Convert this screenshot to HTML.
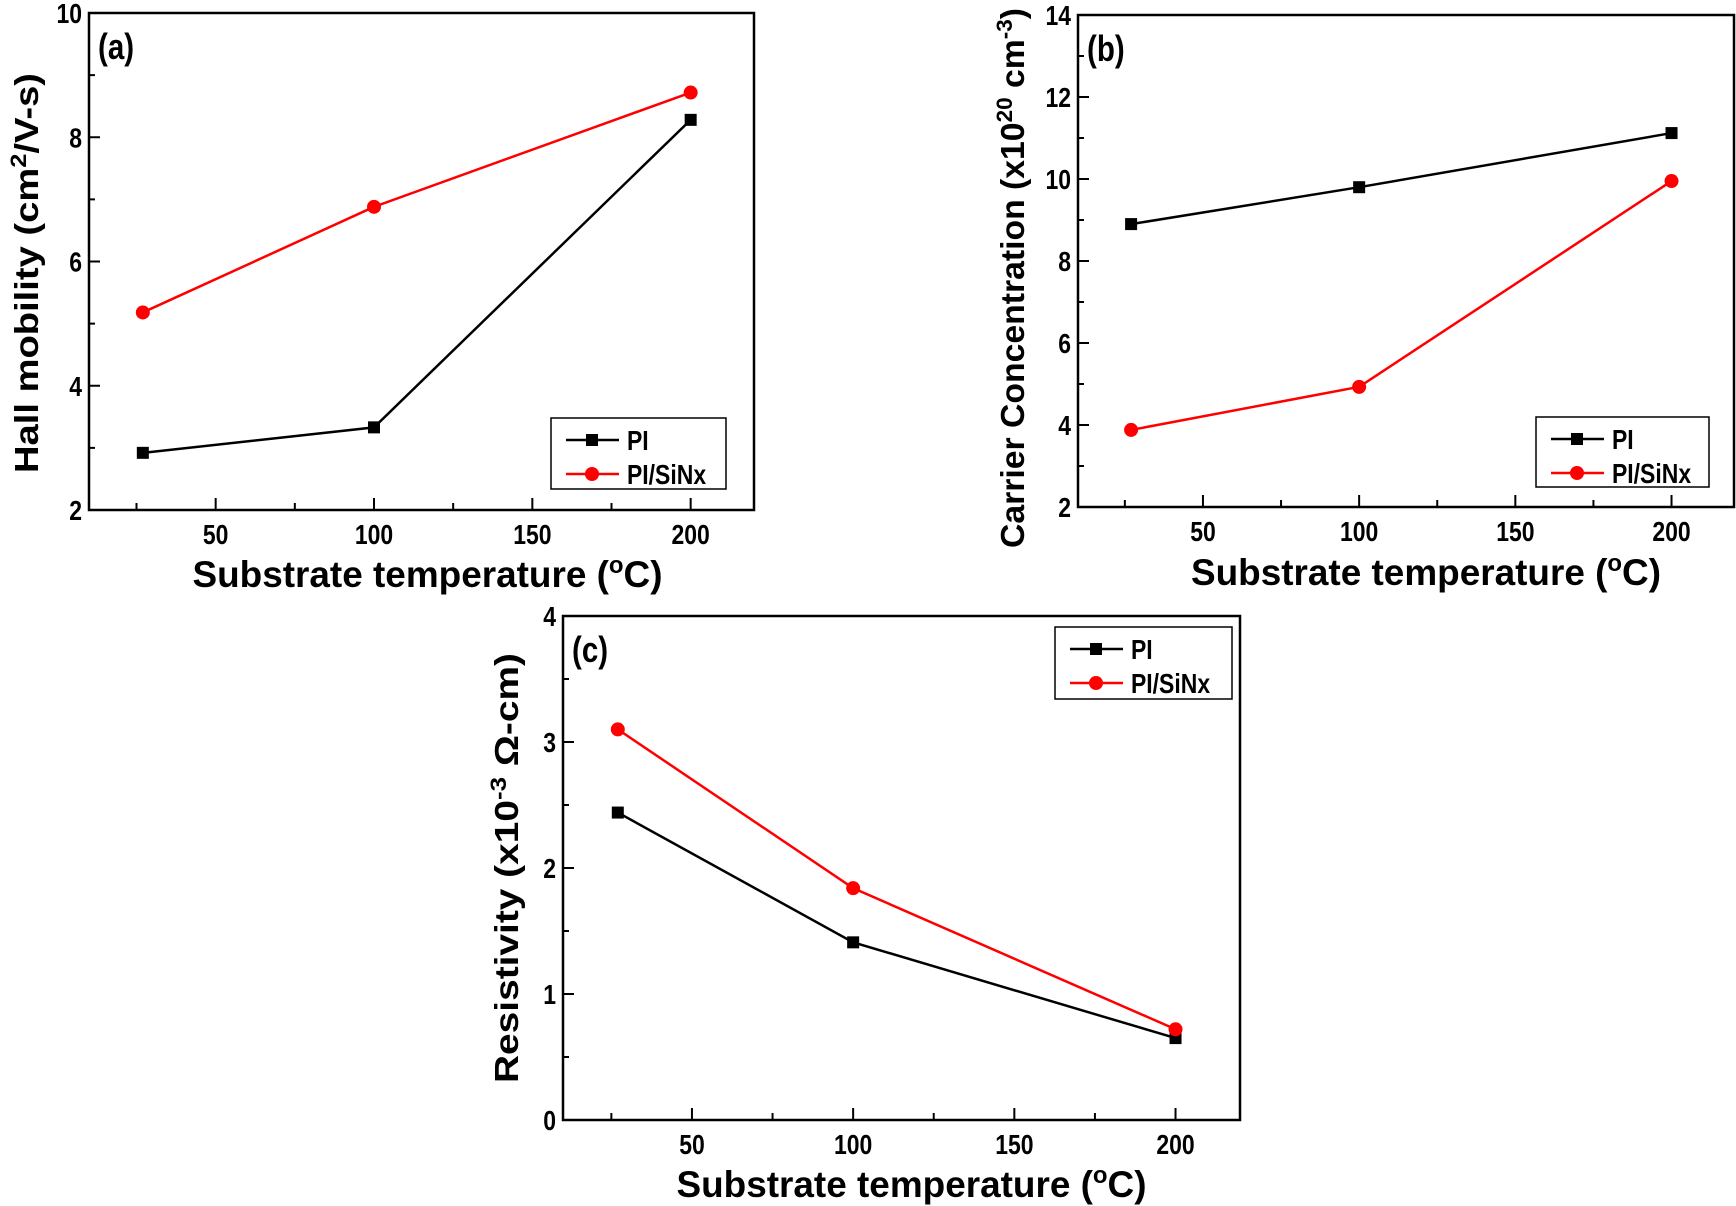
<!DOCTYPE html>
<html><head><meta charset="utf-8">
<style>
html,body{margin:0;padding:0;background:#fff;}
svg{display:block;font-family:"Liberation Sans",Arial,sans-serif;font-weight:bold;}
</style></head>
<body>
<svg id="fig" width="1736" height="1206" viewBox="0 0 1736 1206" xmlns="http://www.w3.org/2000/svg"></svg>
<script>
// ---- data ----
const temps = [27, 100, 200];
const xTicks = [50, 100, 150, 200];
const xMinorTicks = [25, 75, 125, 175];
const mobilityPI = [2.92, 3.33, 8.28];
const mobilitySiNx = [5.18, 6.88, 8.72];
const mobilityTicks = [2, 4, 6, 8, 10];
const carrierPI = [8.9, 9.8, 11.12];
const carrierSiNx = [3.88, 4.93, 9.95];
const carrierTicks = [2, 4, 6, 8, 10, 12, 14];
const resistPI = [2.44, 1.41, 0.65];
const resistSiNx = [3.1, 1.84, 0.72];
const resistTicks = [0, 1, 2, 3, 4];
const seriesNames = ["PI", "PI/SiNx"];

const NS = "http://www.w3.org/2000/svg";
const svg = document.getElementById('fig');
function mk(tag, attrs, parent, text) {
  const e = document.createElementNS(NS, tag);
  for (const k in attrs) e.setAttribute(k, attrs[k]);
  if (text !== undefined) e.textContent = text;
  (parent || svg).appendChild(e);
  return e;
}
function ntext(x, y, size, anchor, parent, txt) {
  return mk('text', {transform: `translate(${x},${y}) scale(0.82,1)`, 'text-anchor': anchor, 'font-size': size}, parent, txt);
}

function panel(cfg) {
  const g = mk('g', {});
  
  
  const {L, R, T, B, ymin, ymax} = cfg;
  const xs = v => L + (v - 10) / 210 * (R - L);
  const ys = v => B - (v - ymin) / (ymax - ymin) * (B - T);
  const frame = mk('rect', {x: L, y: T, width: R - L, height: B - T, fill: 'none', stroke: '#000', 'stroke-width': 2.5}, g);
  
  
  xTicks.forEach(t => {
    const x = xs(t);
    mk('line', {x1: x, x2: x, y1: B, y2: B - 12, stroke: '#000', 'stroke-width': 2}, g);
    const lb = ntext(x, B + 34, 28, 'middle', g, t);
    
    
  });
  xMinorTicks.forEach(t => {
    const x = xs(t);
    mk('line', {x1: x, x2: x, y1: B, y2: B - 7, stroke: '#000', 'stroke-width': 2}, g);
  });
  const ticks = cfg.yTicks;
  ticks.forEach((t, i) => {
    const y = ys(t);
    mk('line', {x1: L, x2: L + 11, y1: y, y2: y, stroke: '#000', 'stroke-width': 2}, g);
    const lb = ntext(L - 7, y + 10, 28, 'end', g, t);
    
    
    if (i < ticks.length - 1) {
      const ym = ys((t + ticks[i + 1]) / 2);
      mk('line', {x1: L, x2: L + 6, y1: ym, y2: ym, stroke: '#000', 'stroke-width': 2}, g);
    }
  });
  const xt = mk('text', {x: (L + R) / 2 + cfg.xtOff, y: cfg.xtY, 'text-anchor': 'middle', 'font-size': 37, textLength: 470, lengthAdjust: 'spacingAndGlyphs'}, g);
  
  
  mk('tspan', {}, xt, 'Substrate temperature (');
  mk('tspan', {dy: -14, 'font-size': 24}, xt, 'o');
  mk('tspan', {dy: 14}, xt, 'C)');
  const yt = mk('text', {transform: `translate(${cfg.ytX},${cfg.ytY}) rotate(-90)`, 'text-anchor': 'middle', 'font-size': 33, textLength: cfg.ytLen, lengthAdjust: 'spacingAndGlyphs'}, g);
  
  
  cfg.ytParts.forEach(p => mk('tspan', p[1], yt, p[0]));
  const pl = ntext(L + 9, T + 46, 36, 'start', g, cfg.label);
  
  
  const series = [[cfg.s1, '#000', 'square'], [cfg.s2, '#f00', 'circle']];
  series.forEach(([vals, col, shape], si) => {
    const pts = temps.map((t, i) => xs(t) + ',' + ys(vals[i])).join(' ');
    const line = mk('polyline', {points: pts, fill: 'none', stroke: col, 'stroke-width': 2.5}, g);
    
    
    temps.forEach((t, i) => {
      let m;
      if (shape === 'square') m = mk('rect', {x: xs(t) - 6, y: ys(vals[i]) - 6, width: 12, height: 12, fill: col}, g);
      else m = mk('circle', {cx: xs(t), cy: ys(vals[i]), r: 7, fill: col}, g);
      
      
    });
  });
  const lg = mk('g', {}, g);
  
  
  const [lx, ly, lw, lh] = cfg.legend;
  mk('rect', {x: lx, y: ly, width: lw, height: lh, fill: '#fff', stroke: '#000', 'stroke-width': 1.5}, lg);
  series.forEach(([vals, col, shape], si) => {
    const ey = ly + 22 + si * 34;
    const ent = mk('g', {}, lg);
    
    
    mk('line', {x1: lx + 15, x2: lx + 68, y1: ey, y2: ey, stroke: col, 'stroke-width': 2.5}, ent);
    if (shape === 'square') mk('rect', {x: lx + 35, y: ey - 6, width: 12, height: 12, fill: col}, ent);
    else mk('circle', {cx: lx + 41, cy: ey, r: 7, fill: col}, ent);
    ntext(lx + 76, ey + 10, 28, 'start', ent, seriesNames[si]);
  });
}

panel({name: 'panel-a-hall-mobility', L: 89, R: 754, T: 13, B: 510, ymin: 2, ymax: 10, yTicks: mobilityTicks,
  s1: mobilityPI, s2: mobilitySiNx, label: '(a)', xtY: 587, xtOff: 6, ytX: 38, ytY: 273, ytLen: 400,
  ytParts: [['Hall mobility (cm', {}], ['2', {dy: -12, 'font-size': 22}], ['/V-s)', {dy: 12}]],
  legend: [551, 418, 175, 71]});
panel({name: 'panel-b-carrier-concentration', L: 1078, R: 1734, T: 15, B: 507, ymin: 2, ymax: 14, yTicks: carrierTicks,
  s1: carrierPI, s2: carrierSiNx, label: '(b)', xtY: 585, xtOff: 20, ytX: 1024, ytY: 278, ytLen: 540,
  ytParts: [['Carrier Concentration (x10', {}], ['20', {dy: -12, 'font-size': 22}], [' cm', {dy: 12}], ['-3', {dy: -12, 'font-size': 22}], [')', {dy: 12}]],
  legend: [1536, 417, 173, 70]});
panel({name: 'panel-c-resistivity', L: 563, R: 1240, T: 616, B: 1120, ymin: 0, ymax: 4, yTicks: resistTicks,
  s1: resistPI, s2: resistSiNx, label: '(c)', xtY: 1197, xtOff: 10, ytX: 518, ytY: 868, ytLen: 430,
  ytParts: [['Resistivity (x10', {}], ['-3', {dy: -12, 'font-size': 22}], [' Ω-cm)', {dy: 12}]],
  legend: [1055, 627, 177, 72]});
</script>
</body></html>
